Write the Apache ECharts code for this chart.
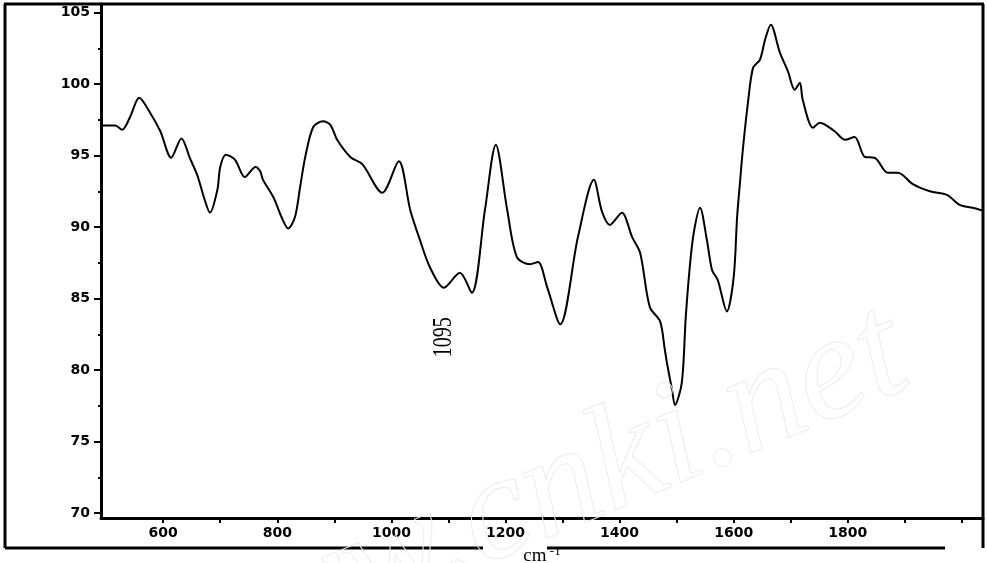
<!DOCTYPE html>
<html>
<head>
<meta charset="utf-8">
<script src="https://cdn.jsdelivr.net/npm/echarts@6/dist/echarts.min.js"></script>
<style>
  html, body { margin: 0; padding: 0; background: #fff; }
  #chart { width: 987px; height: 563px; }
</style>
</head>
<body>
<div id="chart"></div>
<script>
// IR spectrum, wavenumber (cm-1) vs transmittance
const wavenumber = [491, 516, 528, 542, 558, 577, 595, 614, 632, 647,
  660, 672, 682, 695, 700, 710, 726, 743, 762, 770,
  775, 793, 808, 819, 831, 840, 849, 863, 880, 893,
  905, 928, 949, 984, 1013, 1033, 1050, 1068, 1092, 1120,
  1141, 1164, 1183, 1203, 1220, 1243, 1257, 1273, 1296, 1327,
  1355, 1369, 1383, 1404, 1422, 1436, 1453, 1471, 1479, 1483,
  1492, 1497, 1509, 1516, 1523, 1530, 1541, 1553, 1562, 1572,
  1588, 1600, 1606, 1611, 1616, 1625, 1634, 1646, 1655, 1665,
  1681, 1695, 1707, 1716, 1721, 1739, 1751, 1777, 1795, 1812,
  1830, 1847, 1870, 1888, 1914, 1944, 1974, 1996, 2019, 2037];
const transmittance = [97.1, 97.1, 96.8, 97.7, 99.05, 98.0, 96.7, 94.85, 96.2, 94.8,
  93.6, 92.0, 91.0, 92.6, 94.2, 95.05, 94.7, 93.5, 94.2, 93.9,
  93.3, 92.1, 90.65, 89.9, 90.7, 92.8, 94.9, 97.0, 97.4, 97.15,
  96.1, 94.9, 94.4, 92.4, 94.6, 91.2, 89.1, 87.15, 85.75, 86.8,
  85.4, 91.2, 95.75, 91.2, 87.9, 87.4, 87.55, 85.8, 83.2, 89.3,
  93.3, 91.1, 90.15, 91.0, 89.3, 88.2, 84.4, 83.4, 81.5, 80.5,
  78.6, 77.55, 79.1, 83.7, 87.2, 89.6, 91.35, 89.1, 87.0, 86.3,
  84.1, 86.5, 90.7, 93.1, 95.4, 98.7, 101.15, 101.7, 103.1, 104.15,
  102.2, 100.9, 99.6, 100.1, 98.9, 96.95, 97.3, 96.7, 96.1, 96.3,
  94.9, 94.85, 93.8, 93.8, 93.0, 92.5, 92.25, 91.55, 91.35, 91.15];

const xTicks = [600, 700, 800, 900, 1000, 1100, 1200, 1300, 1400, 1500, 1600, 1700, 1800, 1900, 2000];
const xLabels = [600, 800, 1000, 1200, 1400, 1600, 1800];
const yTicks = [70, 75, 80, 85, 90, 95, 100, 105];
const yMinorTicks = [72.5, 77.5, 82.5, 87.5, 92.5, 97.5, 102.5];

const peakLabel = '1095';
const peakLabelPos = [1091, 82.3];

const chart = echarts.init(document.getElementById('chart'));

const labelFont = {
  color: '#000',
  fontFamily: 'DejaVu Sans',
  fontWeight: 'bold',
  fontSize: 14,
  formatter: (v) => String(v)
};

const frame = { stroke: '#000', lineWidth: 3 };

chart.setOption({
  animation: false,
  backgroundColor: '#fff',
  grid: { left: 101, right: 4, top: 4, bottom: 45, outerBoundsMode: 'none', containLabel: false },
  xAxis: {
    type: 'value',
    min: 491,
    max: 2037,
    splitLine: { show: false },
    axisLine: { show: true, lineStyle: { color: '#000', width: 3 } },
    axisTick: { show: true, customValues: xTicks, length: 5, inside: false, lineStyle: { color: '#000', width: 2 } },
    axisLabel: Object.assign({ customValues: xLabels, margin: 8 }, labelFont),
    name: '{a|cm}{b| -1}',
    nameLocation: 'middle',
    nameGap: 25,
    nameTextStyle: {
      backgroundColor: '#fff',
      padding: [0, 5],
      rich: {
        a: { fontFamily: 'Liberation Serif', fontSize: 19, color: '#000', lineHeight: 22 },
        b: { fontFamily: 'Liberation Serif', fontSize: 13, color: '#000', verticalAlign: 'top', padding: [0, 0, 10, 0] }
      }
    }
  },
  yAxis: [{
    type: 'value',
    min: 69.65,
    max: 105.6,
    splitLine: { show: false },
    axisLine: { show: true, lineStyle: { color: '#000', width: 3 } },
    axisTick: { show: true, customValues: yTicks, length: 7, lineStyle: { color: '#000', width: 2 } },
    axisLabel: Object.assign({ customValues: yTicks, margin: 11 }, labelFont)
  }, {
    type: 'value',
    position: 'left',
    min: 69.65,
    max: 105.6,
    splitLine: { show: false },
    axisLine: { show: false },
    axisTick: { show: true, customValues: yMinorTicks, length: 3, lineStyle: { color: '#000', width: 2 } },
    axisLabel: { show: false }
  }],
  series: [{
    type: 'line',
    data: wavenumber.map((w, i) => [w, transmittance[i]]),
    showSymbol: false,
    smooth: 0.3,
    lineStyle: { color: '#000', width: 2 }
  }],
  graphic: [
    { id: 'top', type: 'line', shape: { x1: 4, y1: 4, x2: 984, y2: 4 }, style: frame, z: 10 },
    { id: 'left', type: 'line', shape: { x1: 5, y1: 4, x2: 5, y2: 548 }, style: frame, z: 10 },
    { id: 'right', type: 'line', shape: { x1: 983, y1: 4, x2: 983, y2: 548 }, style: frame, z: 10 },
    { id: 'bottomL', type: 'line', shape: { x1: 5, y1: 548, x2: 483, y2: 548 }, style: frame, z: 10 },
    { id: 'bottomR', type: 'line', shape: { x1: 547, y1: 548, x2: 945, y2: 548 }, style: frame, z: 10 },
    {
      id: 'watermark', type: 'text', x: 532, y: 502, rotation: 22.7 * Math.PI / 180, z: 20,
      style: {
        text: 'www.cnki.net', font: 'italic 150px "Liberation Serif"',
        fill: 'none', stroke: '#ececec', lineWidth: 1,
        align: 'center', verticalAlign: 'middle'
      }
    }
  ]
});

// annotation placed from data coordinates
const p = chart.convertToPixel({ gridIndex: 0 }, peakLabelPos);
chart.setOption({
  graphic: [{
    id: 'peak', type: 'text', x: p[0], y: p[1], rotation: Math.PI / 2, scaleY: 1.4, z: 15,
    style: {
      text: peakLabel, font: '20px "Liberation Serif"', fill: '#000',
      align: 'center', verticalAlign: 'middle'
    }
  }]
});
</script>
</body>
</html>
